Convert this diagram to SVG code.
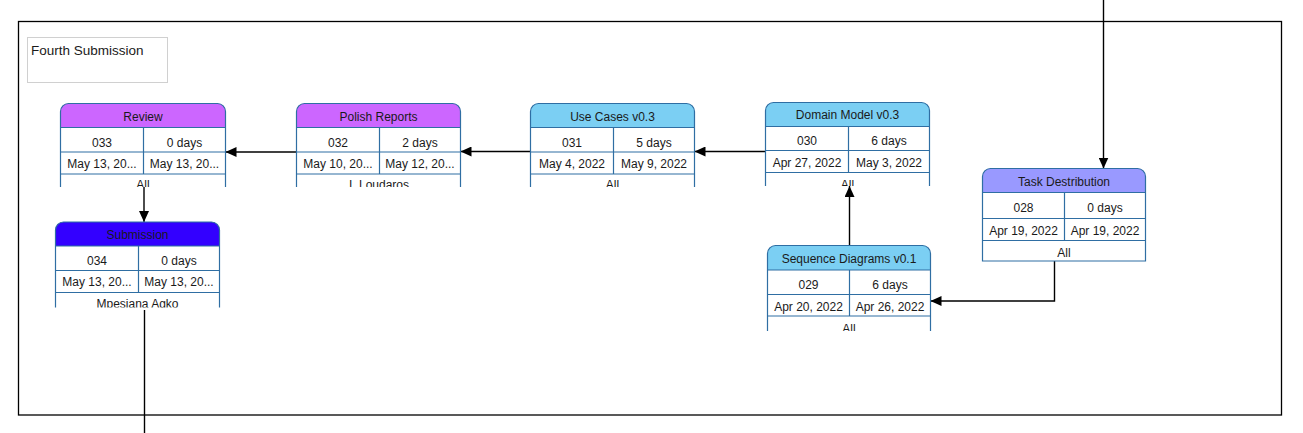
<svg xmlns="http://www.w3.org/2000/svg" width="1303" height="433" viewBox="0 0 1303 433">
<style>
text{font-family:"Liberation Sans",Arial,sans-serif;font-size:12px;fill:#1a1a1a;text-anchor:middle}
.out{fill:none;stroke:#2f6ea3;stroke-width:1.2}
.cell{fill:#ffffff}
.grid{fill:none;stroke:#2f6ea3;stroke-width:1.2}
.purple{fill:#cc66ff}
.lblue{fill:#7bcff3}
.violet{fill:#9999ff}
.blue{fill:#3300ff}
.conn{fill:none;stroke:#000;stroke-width:1.4}
</style>
<defs>
<marker id="ah" markerUnits="userSpaceOnUse" markerWidth="12" markerHeight="10" refX="11" refY="5" orient="auto">
<path d="M0,0 L11,5 L0,10 Z" fill="#000"/>
</marker>
<clipPath id="cReview"><rect x="50" y="95" width="190" height="92"/></clipPath>
<clipPath id="cPolish"><rect x="290" y="95" width="180" height="92"/></clipPath>
<clipPath id="cUse"><rect x="520" y="95" width="180" height="92"/></clipPath>
<clipPath id="cDomain"><rect x="760" y="95" width="180" height="91"/></clipPath>
<clipPath id="cSeq"><rect x="760" y="240" width="180" height="91"/></clipPath>
<clipPath id="cSub"><rect x="50" y="215" width="180" height="92.5"/></clipPath>
</defs>
<rect x="0" y="0" width="1303" height="433" fill="#ffffff"/>
<rect x="18.5" y="21.5" width="1263" height="393.5" fill="none" stroke="#000" stroke-width="1.3"/>
<g id="label">
<rect x="27.5" y="37.5" width="140" height="45" fill="#fff" stroke="#d0d0d0" stroke-width="1"/>
<text x="31" y="55" style="text-anchor:start;font-size:13.5px">Fourth Submission</text>
</g>
<g id="connectors">
<line class="conn" x1="765.5" y1="151.5" x2="694.5" y2="151.5" marker-end="url(#ah)"/>
<line class="conn" x1="530.5" y1="151.5" x2="460.5" y2="151.5" marker-end="url(#ah)"/>
<line class="conn" x1="296.5" y1="152" x2="225.5" y2="152" marker-end="url(#ah)"/>
<line class="conn" x1="144" y1="187" x2="144" y2="222" marker-end="url(#ah)"/>
<line class="conn" x1="144.5" y1="310" x2="144.5" y2="433"/>
<line class="conn" x1="1103.5" y1="0" x2="1103.5" y2="168.5" marker-end="url(#ah)"/>
<polyline class="conn" points="1054.5,261 1054.5,301 930.5,301" marker-end="url(#ah)"/>
<line class="conn" x1="849.5" y1="245.5" x2="849.5" y2="186" marker-end="url(#ah)"/>
</g>
<g id="review" clip-path="url(#cReview)">
<rect class="cell" x="60.5" y="127.5" width="165" height="70"/>
<path class="purple" d="M60.5,127.5 V111.5 A8,8 0 0 1 68.5,103.5 H217.5 A8,8 0 0 1 225.5,111.5 V127.5 Z"/>
<path class="out" d="M60.5,190 V111.5 A8,8 0 0 1 68.5,103.5 H217.5 A8,8 0 0 1 225.5,111.5 V190"/>
<path class="grid" d="M60.5,127.5 H225.5 M60.5,152 H225.5 M60.5,174 H225.5 M143.5,127.5 V174"/>
<text x="143" y="120.5">Review</text>
<text x="102" y="147">033</text>
<text x="184.5" y="147">0 days</text>
<text x="102" y="168">May 13, 20...</text>
<text x="184.5" y="168">May 13, 20...</text>
<text x="143" y="188.5">All</text>
</g>
<g id="polish" clip-path="url(#cPolish)">
<rect class="cell" x="296.5" y="127.5" width="164" height="70"/>
<path class="purple" d="M296.5,127.5 V111.5 A8,8 0 0 1 304.5,103.5 H452.5 A8,8 0 0 1 460.5,111.5 V127.5 Z"/>
<path class="out" d="M296.5,190 V111.5 A8,8 0 0 1 304.5,103.5 H452.5 A8,8 0 0 1 460.5,111.5 V190"/>
<path class="grid" d="M296.5,127.5 H460.5 M296.5,152 H460.5 M296.5,174 H460.5 M379.5,127.5 V174"/>
<text x="378.5" y="120.5">Polish Reports</text>
<text x="338" y="147">032</text>
<text x="420" y="147">2 days</text>
<text x="338" y="168.3">May 10, 20...</text>
<text x="420" y="168.3">May 12, 20...</text>
<text x="379" y="188.7">I. Loudaros</text>
</g>
<g id="usecases" clip-path="url(#cUse)">
<rect class="cell" x="530.5" y="127.5" width="164" height="70"/>
<path class="lblue" d="M530.5,127.5 V111.5 A8,8 0 0 1 538.5,103.5 H686.5 A8,8 0 0 1 694.5,111.5 V127.5 Z"/>
<path class="out" d="M530.5,190 V111.5 A8,8 0 0 1 538.5,103.5 H686.5 A8,8 0 0 1 694.5,111.5 V190"/>
<path class="grid" d="M530.5,127.5 H694.5 M530.5,152 H694.5 M530.5,174 H694.5 M613.5,127.5 V174"/>
<text x="612.5" y="120.5">Use Cases v0.3</text>
<text x="572" y="147">031</text>
<text x="654" y="147">5 days</text>
<text x="572" y="168.3">May 4, 2022</text>
<text x="654" y="168.3">May 9, 2022</text>
<text x="612.5" y="188.7">All</text>
</g>
<g id="domain" clip-path="url(#cDomain)">
<rect class="cell" x="765.5" y="126.5" width="164" height="70"/>
<path class="lblue" d="M765.5,126.5 V110.5 A8,8 0 0 1 773.5,102.5 H921.5 A8,8 0 0 1 929.5,110.5 V126.5 Z"/>
<path class="out" d="M765.5,190 V110.5 A8,8 0 0 1 773.5,102.5 H921.5 A8,8 0 0 1 929.5,110.5 V190"/>
<path class="grid" d="M765.5,126.5 H929.5 M765.5,150.5 H929.5 M765.5,172.5 H929.5 M848.5,126.5 V172.5"/>
<text x="847.5" y="119">Domain Model v0.3</text>
<text x="807" y="145">030</text>
<text x="889" y="145">6 days</text>
<text x="807" y="167.3">Apr 27, 2022</text>
<text x="889" y="167.3">May 3, 2022</text>
<text x="847.5" y="188.7">All</text>
</g>
<g id="taskdestribution">
<rect class="cell" x="982.5" y="192.5" width="163" height="68.5"/>
<path class="violet" d="M982.5,192.5 V176.5 A8,8 0 0 1 990.5,168.5 H1137.5 A8,8 0 0 1 1145.5,176.5 V192.5 Z"/>
<path class="out" d="M982.5,261 V176.5 A8,8 0 0 1 990.5,168.5 H1137.5 A8,8 0 0 1 1145.5,176.5 V261 Z"/>
<path class="grid" d="M982.5,192.5 H1145.5 M982.5,218.5 H1145.5 M982.5,240.5 H1145.5 M1064.5,192.5 V240.5"/>
<text x="1064" y="185.7">Task Destribution</text>
<text x="1023.5" y="212.3">028</text>
<text x="1105" y="212.3">0 days</text>
<text x="1023.5" y="235">Apr 19, 2022</text>
<text x="1105" y="235">Apr 19, 2022</text>
<text x="1064" y="257">All</text>
</g>
<g id="sequencediagrams" clip-path="url(#cSeq)">
<rect class="cell" x="767.5" y="270" width="163" height="70"/>
<path class="lblue" d="M767.5,270 V253.5 A8,8 0 0 1 775.5,245.5 H922.5 A8,8 0 0 1 930.5,253.5 V270 Z"/>
<path class="out" d="M767.5,335 V253.5 A8,8 0 0 1 775.5,245.5 H922.5 A8,8 0 0 1 930.5,253.5 V335"/>
<path class="grid" d="M767.5,270 H930.5 M767.5,294.5 H930.5 M767.5,316 H930.5 M849.5,270 V316"/>
<text x="849" y="263.3">Sequence Diagrams v0.1</text>
<text x="808.5" y="289">029</text>
<text x="890" y="289">6 days</text>
<text x="808.5" y="310.7">Apr 20, 2022</text>
<text x="890" y="310.7">Apr 26, 2022</text>
<text x="849" y="333">All</text>
</g>
<g id="submission" clip-path="url(#cSub)">
<rect class="cell" x="55.5" y="246" width="164" height="70"/>
<path class="blue" d="M55.5,246 V230 A8,8 0 0 1 63.5,222 H211.5 A8,8 0 0 1 219.5,230 V246 Z"/>
<path class="out" d="M55.5,310 V230 A8,8 0 0 1 63.5,222 H211.5 A8,8 0 0 1 219.5,230 V310"/>
<path class="grid" d="M55.5,246 H219.5 M55.5,270.5 H219.5 M55.5,292.5 H219.5 M138.5,246 V292.5"/>
<text x="137.5" y="238.7">Submission</text>
<text x="97" y="264.7">034</text>
<text x="179" y="264.7">0 days</text>
<text x="97" y="286">May 13, 20...</text>
<text x="179" y="286">May 13, 20...</text>
<text x="137.5" y="308">Mpesiana Agko</text>
</g>
</svg>
